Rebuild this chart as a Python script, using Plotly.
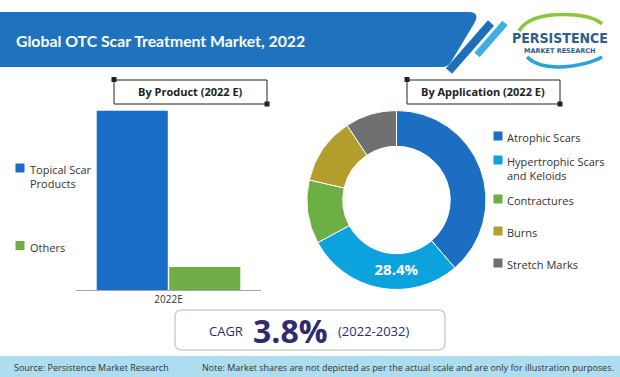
import plotly.graph_objects as go

W, H = 620, 377

# ---------------- data ----------------
product_categories = ["2022E"]
product_names = ["Topical Scar Products", "Others"]
product_legend_labels = ["Topical Scar<br>Products", "Others"]
product_values = [88.6, 11.4]
product_colors = ["#1A6DC6", "#70AD47"]

app_labels = ["Atrophic Scars", "Hypertrophic Scars and Keloids", "Contractures", "Burns", "Stretch Marks"]
app_legend_labels = ["Atrophic Scars", "Hypertrophic Scars<br>and Keloids", "Contractures", "Burns", "Stretch Marks"]
app_values = [38.7, 28.4, 11.5, 12.1, 9.3]
app_colors = ["#1B6EC2", "#0BA2DE", "#6DAE45", "#B39D2C", "#707070"]
app_show_label = [False, True, False, False, False]

title_text = "Global OTC Scar Treatment Market, 2022"
cagr_value = "3.8%"
cagr_period = "(2022-2032)"
source_text = "Source: Persistence Market Research"
note_text = "Note: Market shares are not depicted as per the actual scale and are only for illustration purposes."

FONT = "Open Sans, Noto Sans, DejaVu Sans, sans-serif"
NAVY = "#2E2B6E"


def px(x):
    return x / W


def py(y):
    return 1 - y / H


def path(points_cmds):
    out = []
    for c in points_cmds:
        if isinstance(c, str):
            out.append(c)
        else:
            out.append(f"{px(c[0]):.5f},{py(c[1]):.5f}")
    return " ".join(out)


def rounded_rect(x0, y0, x1, y1, r):
    return path([
        "M", (x0 + r, y0), "L", (x1 - r, y0), "Q", (x1, y0), (x1, y0 + r),
        "L", (x1, y1 - r), "Q", (x1, y1), (x1 - r, y1),
        "L", (x0 + r, y1), "Q", (x0, y1), (x0, y1 - r),
        "L", (x0, y0 + r), "Q", (x0, y0), (x0 + r, y0), "Z"])


fig = go.Figure()

# ---------------- bar chart ----------------
plot_top, plot_bot = 105, 290
blue_top = 110.7
ymax = product_values[0] * (plot_bot - plot_top) / (plot_bot - blue_top)
for name, val, col in zip(product_names, product_values, product_colors):
    fig.add_trace(go.Bar(
        x=product_categories, y=[val], name=name, marker=dict(color=col, line=dict(width=0)),
        showlegend=False, hoverinfo="skip", xaxis="x", yaxis="y"))

# ---------------- donut ----------------
texttemplates = ["%{value:.1f}%" if s else "" for s in app_show_label]
fig.add_trace(go.Pie(
    labels=app_labels, values=app_values, hole=0.6, sort=False, direction="clockwise",
    rotation=0, marker=dict(colors=app_colors, line=dict(color="white", width=1)),
    texttemplate=texttemplates, textinfo="text", textposition="inside",
    insidetextorientation="horizontal",
    textfont=dict(family=FONT, size=15, color="white", weight="bold"),
    domain=dict(x=[px(307), px(486)], y=[py(290), py(110)]),
    showlegend=False, hoverinfo="skip"))

shapes = []
ann = []

# header banner
shapes.append(dict(type="path", xref="paper", yref="paper", line=dict(width=0), fillcolor="#1F73BE",
                   path=path(["M", (0, 12), "L", (468, 12), "Q", (480, 12), (475, 22),
                              "L", (451, 62), "Q", (448, 67), (442, 67), "L", (0, 67), "Z"]),
                   layer="below"))
shapes.append(dict(type="line", xref="paper", yref="paper", x0=px(449), y0=py(71), x1=px(491), y1=py(23),
                   line=dict(color="#1E6FBA", width=8)))
shapes.append(dict(type="line", xref="paper", yref="paper", x0=px(477), y0=py(55), x1=px(505), y1=py(23),
                   line=dict(color="#3FAEE4", width=7)))
ann.append(dict(x=px(14), y=py(40), xref="paper", yref="paper", text=title_text, showarrow=False,
                xanchor="left", yanchor="middle",
                font=dict(family="Lato, Open Sans, sans-serif", size=15.8, color="white", weight="bold")))

# logo
shapes.append(dict(type="path", xref="paper", yref="paper", fillcolor="rgba(0,0,0,0)",
                   line=dict(color="#8CC63F", width=3.5),
                   path=path(["M", (519, 31), "Q", (530, 12), (575, 15), "Q", (595, 17), (602, 24)])))
shapes.append(dict(type="path", xref="paper", yref="paper", fillcolor="rgba(0,0,0,0)",
                   line=dict(color="#29A3D6", width=3.5),
                   path=path(["M", (527, 57), "Q", (540, 70), (572, 66), "Q", (592, 63), (602, 57)])))
ann.append(dict(x=px(560), y=py(38), xref="paper", yref="paper", text="PERSISTENCE", showarrow=False,
                xanchor="center", yanchor="middle",
                font=dict(family="Liberation Sans Narrow, DejaVu Sans Condensed, sans-serif", size=14,
                          color="#2C5E8F", weight="bold")))
ann.append(dict(x=px(560), y=py(51), xref="paper", yref="paper", text="MARKET RESEARCH",
                showarrow=False, xanchor="center", yanchor="middle",
                font=dict(family="DejaVu Sans, sans-serif", size=6.5, color="#2C5E8F", weight="bold")))

# section title boxes
for (x0, x1, txt) in [(114, 267, "By Product (2022 E)"), (407, 560, "By Application (2022 E)")]:
    shapes.append(dict(type="rect", xref="paper", yref="paper", x0=px(x0), x1=px(x1), y0=py(104), y1=py(80),
                       line=dict(color="#222222", width=1), fillcolor="white"))
    shapes.append(dict(type="rect", xref="paper", yref="paper", x0=px(x0 - 2.5), x1=px(x0 + 2.5),
                       y0=py(82), y1=py(77), line=dict(width=0), fillcolor="#222222"))
    shapes.append(dict(type="rect", xref="paper", yref="paper", x0=px(x1 - 2.5), x1=px(x1 + 2.5),
                       y0=py(106.5), y1=py(101.5), line=dict(width=0), fillcolor="#222222"))
    ann.append(dict(x=px((x0 + x1) / 2), y=py(92), xref="paper", yref="paper", text=f"<b>{txt}</b>",
                    showarrow=False, xanchor="center", yanchor="middle",
                    font=dict(family=FONT, size=11, color="#222222")))

# bar legend (custom)
bar_leg_y = [168, 245.5]
for lab, col, yy in zip(product_legend_labels, product_colors, bar_leg_y):
    shapes.append(dict(type="rect", xref="paper", yref="paper", x0=px(15.5), x1=px(24.5),
                       y0=py(yy + 4.5), y1=py(yy - 4.5), line=dict(width=0), fillcolor=col))
    ann.append(dict(x=px(28), y=py(yy - 8), xref="paper", yref="paper", text=lab, showarrow=False,
                    xanchor="left", yanchor="top", align="left",
                    font=dict(family=FONT, size=11, color="#333333")))

# donut legend (custom)
app_leg_y = [136, 160, 199, 231, 263]
for lab, col, yy in zip(app_legend_labels, app_colors, app_leg_y):
    shapes.append(dict(type="rect", xref="paper", yref="paper", x0=px(493.5), x1=px(502.5),
                       y0=py(yy + 4.5), y1=py(yy - 4.5), line=dict(width=0), fillcolor=col))
    ann.append(dict(x=px(505), y=py(yy - 8), xref="paper", yref="paper", text=lab, showarrow=False,
                    xanchor="left", yanchor="top", align="left",
                    font=dict(family=FONT, size=11, color="#333333")))

# CAGR box
shapes.append(dict(type="path", xref="paper", yref="paper", path=rounded_rect(175, 310, 445, 350, 7),
                   line=dict(color="#C4D6CC", width=1.5), fillcolor="white"))
ann.append(dict(x=px(226), y=py(331), xref="paper", yref="paper", showarrow=False,
                xanchor="center", yanchor="middle", text="CAGR",
                font=dict(family=FONT, size=13, color=NAVY)))
ann.append(dict(x=px(290), y=py(330), xref="paper", yref="paper", showarrow=False,
                xanchor="center", yanchor="middle", text=f"<b>{cagr_value}</b>",
                font=dict(family=FONT, size=32, color=NAVY)))
ann.append(dict(x=px(373), y=py(331), xref="paper", yref="paper", showarrow=False,
                xanchor="center", yanchor="middle", text=cagr_period,
                font=dict(family=FONT, size=13, color=NAVY)))

# footer
shapes.append(dict(type="rect", xref="paper", yref="paper", x0=0, x1=1, y0=0, y1=py(356),
                   line=dict(width=0), fillcolor="#AEDDEF", layer="below"))
ann.append(dict(x=px(12), y=py(367), xref="paper", yref="paper", text=source_text, showarrow=False,
                xanchor="left", yanchor="middle", font=dict(family=FONT, size=9, color="#333333")))
ann.append(dict(x=px(616), y=py(367), xref="paper", yref="paper", text=note_text, showarrow=False,
                xanchor="right", yanchor="middle", font=dict(family=FONT, size=9, color="#333333")))

fig.update_layout(
    width=W, height=H, margin=dict(l=0, r=0, t=0, b=0),
    paper_bgcolor="white", plot_bgcolor="white",
    barmode="group", bargap=0.216, bargroupgap=0.02,
    xaxis=dict(domain=[px(76), px(261)], showline=True, linecolor="#A6A6A6", linewidth=1,
               ticks="", showgrid=False, zeroline=False, fixedrange=True,
               tickfont=dict(family=FONT, size=10, color="#333333")),
    yaxis=dict(domain=[py(plot_bot), py(plot_top)], range=[0, ymax], visible=False,
               showgrid=False, zeroline=False, fixedrange=True),
    shapes=shapes, annotations=ann, showlegend=False,
)

fig.write_html("out.html", config={"displayModeBar": False},
               post_script="document.body.style.margin='0px';document.body.style.overflow='hidden';")
